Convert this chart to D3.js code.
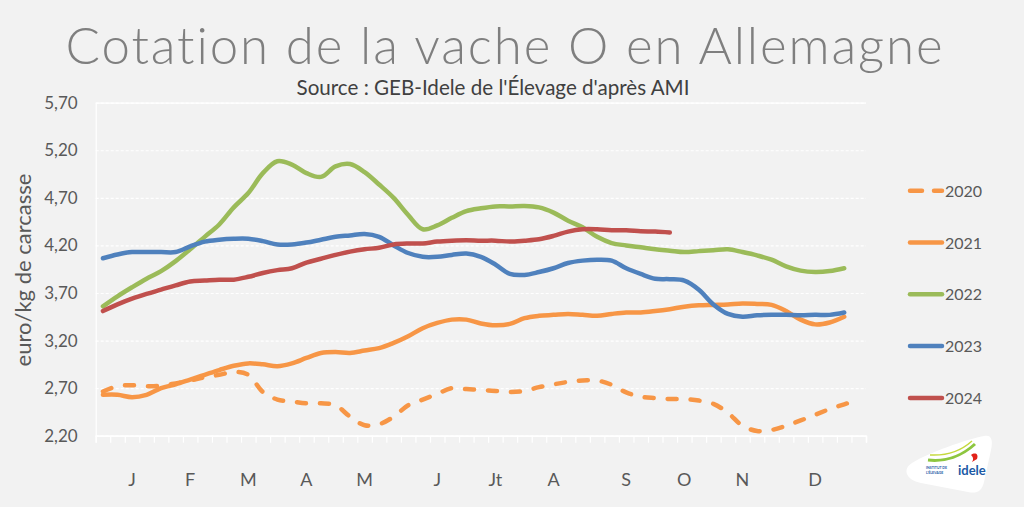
<!DOCTYPE html>
<html><head><meta charset="utf-8">
<script src="https://cdn.jsdelivr.net/npm/d3@7"></script>
<style>
html,body{margin:0;padding:0;background:#f2f2f2;}
svg{display:block;}
text{font-family:Lato,"Open Sans",sans-serif;}
</style></head>
<body>
<svg id="chart" width="1024" height="507"></svg>
<script>
// ---- data ----
const weeks = [1,2,3,4,5,6,7,8,9,10,11,12,13,14,15,16,17,18,19,20,21,22,23,24,25,26,27,28,29,30,31,32,33,34,35,36,37,38,39,40,41,42,43,44,45,46,47,48,49,50,51,52,53];
const monthLabels = ["J","F","M","A","M","J","Jt","A","S","O","N","D"];
const monthWeeks  = [3,7,11,15,19,24,28,32,37,41,45,50];
const yTicks = [2.2,2.7,3.2,3.7,4.2,4.7,5.2,5.7];
const seriesNames = ["2020","2021","2022","2023","2024"];

const s2020 = [2.665,2.72,2.73,2.72,2.725,2.75,2.78,2.815,2.84,2.87,2.84,2.66,2.58,2.56,2.54,2.54,2.52,2.40,2.31,2.32,2.40,2.52,2.58,2.64,2.70,2.69,2.68,2.67,2.66,2.67,2.71,2.74,2.765,2.78,2.78,2.735,2.655,2.61,2.595,2.585,2.585,2.57,2.535,2.44,2.305,2.25,2.26,2.305,2.36,2.42,2.48,2.53,2.58];
const s2021 = [2.63,2.63,2.605,2.63,2.70,2.74,2.79,2.84,2.89,2.935,2.96,2.95,2.93,2.96,3.017,3.07,3.08,3.07,3.095,3.12,3.175,3.245,3.33,3.385,3.42,3.42,3.38,3.36,3.375,3.435,3.46,3.47,3.48,3.47,3.46,3.48,3.495,3.495,3.51,3.53,3.555,3.57,3.575,3.58,3.59,3.585,3.575,3.51,3.42,3.37,3.39,3.45];
const s2022 = [3.56,3.665,3.76,3.85,3.93,4.035,4.16,4.29,4.42,4.60,4.75,4.96,5.085,5.05,4.96,4.92,5.03,5.055,4.97,4.84,4.70,4.52,4.37,4.41,4.49,4.56,4.59,4.61,4.61,4.615,4.60,4.545,4.46,4.39,4.29,4.225,4.20,4.18,4.16,4.145,4.13,4.14,4.15,4.16,4.13,4.095,4.05,3.98,3.935,3.92,3.93,3.96];
const s2023 = [4.065,4.105,4.13,4.13,4.13,4.13,4.19,4.24,4.26,4.27,4.27,4.245,4.21,4.21,4.23,4.26,4.29,4.305,4.32,4.29,4.20,4.12,4.08,4.08,4.10,4.115,4.08,4.0,3.90,3.89,3.92,3.96,4.015,4.04,4.05,4.04,3.96,3.90,3.85,3.845,3.83,3.735,3.58,3.48,3.45,3.465,3.47,3.47,3.465,3.47,3.47,3.495];
const s2024 = [3.51,3.58,3.64,3.69,3.735,3.78,3.82,3.83,3.84,3.84,3.87,3.91,3.94,3.96,4.02,4.06,4.10,4.135,4.16,4.175,4.21,4.22,4.22,4.24,4.25,4.255,4.25,4.25,4.24,4.25,4.265,4.30,4.345,4.37,4.37,4.36,4.36,4.35,4.345,4.335];

const seriesValues = [s2020,s2021,s2022,s2023,s2024];
const seriesColors = ["#F79646","#F79646","#9BBB59","#4F81BD","#C0504D"];
const seriesDash = ["9,14",null,null,null,null];

// ---- layout ----
const svg = d3.select("#chart");
const W = 1024, H = 507;
const pLeft = 95.7, pRight = 866, pTop = 102.7, pBottom = 435.7;

svg.append("rect").attr("width",W).attr("height",H).attr("fill","#f2f2f2");

const x = d3.scaleLinear().domain([0, weeks.length]).range([pLeft, pRight]);
const xc = i => x(i + 0.5);
const y = d3.scaleLinear().domain([2.2, 5.7]).range([pBottom, pTop]);

function fitText(sel, targetWidth){
  const node = sel.node();
  const fs = parseFloat(sel.attr("font-size"));
  const w = node.getComputedTextLength();
  if (w > 0) sel.attr("font-size", (fs * targetWidth / w).toFixed(2));
}
function spreadText(sel, targetWidth){
  const node = sel.node();
  const txt = sel.text();
  const w = node.getComputedTextLength();
  if (w > 0 && txt.length > 1) sel.attr("letter-spacing", ((targetWidth - w) / (txt.length - 1)).toFixed(2));
}

// title
const title = svg.append("text").attr("x",505).attr("y",64).attr("text-anchor","middle")
  .attr("font-size",51).attr("fill","#7f7f7f").attr("font-weight",300)
  .text("Cotation de la vache O en Allemagne");
spreadText(title, 878);
const sub = svg.append("text").attr("x",493).attr("y",95).attr("text-anchor","middle")
  .attr("font-size",16).attr("fill","#404040")
  .text("Source : GEB-Idele de l'Élevage d'après AMI");
fitText(sub, 393);

// y axis + grid
const fmt = v => d3.format(".2f")(v).replace(".", ",");
const yAxis = svg.append("g").attr("transform",`translate(${pLeft},0)`)
  .call(d3.axisLeft(y).tickValues(yTicks).tickSize(-(pRight-pLeft)).tickPadding(18).tickFormat(fmt));
yAxis.select(".domain").attr("stroke","#ffffff").attr("stroke-width",1.2);
yAxis.selectAll(".tick line").attr("stroke","#ffffff").attr("stroke-width",1.2).attr("stroke-dasharray","3,2");
yAxis.selectAll(".tick text").attr("font-size",17).attr("fill","#595959").attr("font-family","Lato,sans-serif");

// x axis
const xAxis = svg.append("g").attr("transform",`translate(0,${pBottom})`)
  .call(d3.axisBottom(x).tickValues(d3.range(weeks.length+1)).tickSize(7).tickFormat(""));
xAxis.select(".domain").attr("stroke","#ffffff").attr("stroke-width",1.5);
xAxis.selectAll(".tick line").attr("stroke","#ffffff").attr("stroke-width",1.2);

svg.append("g").selectAll("text").data(monthLabels).join("text")
  .attr("x",(d,i)=>xc(monthWeeks[i]-1)).attr("y",486).attr("text-anchor","middle")
  .attr("font-size",18).attr("fill","#595959").text(d=>d);

// y axis title
const yt = svg.append("text").attr("transform","translate(31,270) rotate(-90)")
  .attr("text-anchor","middle").attr("font-size",18).attr("fill","#595959")
  .text("euro/kg de carcasse");
fitText(yt, 193);

// lines
const line = d3.line().x((d,i)=>xc(i)).y(d=>y(d)).curve(d3.curveCatmullRom.alpha(0.5));
svg.append("g").selectAll("path").data(seriesValues).join("path")
  .attr("d", d=>line(d)).attr("fill","none")
  .attr("stroke",(d,i)=>seriesColors[i]).attr("stroke-width",4.5)
  .attr("stroke-linecap","round").attr("stroke-linejoin","round")
  .attr("stroke-dasharray",(d,i)=>seriesDash[i]);

// legend
const lg = svg.append("g").selectAll("g").data(seriesNames).join("g")
  .attr("transform",(d,i)=>`translate(0,${190.7 + i*51.8})`);
lg.append("line").attr("x1",910).attr("x2",942).attr("y1",0).attr("y2",0)
  .attr("stroke",(d,i)=>seriesColors[i]).attr("stroke-width",4.5).attr("stroke-linecap","round")
  .attr("stroke-dasharray",(d,i)=>seriesDash[i] ? "12,12" : null);
lg.append("text").attr("x",945).attr("y",6).attr("font-size",16).attr("fill","#595959").text(d=>d);

// logo
const logo = svg.append("g");
logo.append("path").attr("fill","#ffffff")
  .attr("d","M912,463 C930,452 965,440 984,436 C992,434 993,441 991,450 L984,482 C982,491 977,494 968,492 L921,483 C906,480 902,469 912,463 Z");
logo.append("path").attr("fill","none").attr("stroke","#8dc63f").attr("stroke-width",3)
  .attr("d","M928,460 C945,462 962,456 975,444");
logo.append("path").attr("fill","none").attr("stroke","#c5d93d").attr("stroke-width",1.5)
  .attr("d","M930,455 C948,456 962,450 972,441");
logo.append("path").attr("fill","#e2231a").attr("d","M971,455 C975,452 979,454 977,459 L972,462 C974,459 973,457 971,455 Z");
logo.append("text").attr("x",958).attr("y",475).attr("font-size",13).attr("font-weight",700)
  .attr("fill","#1c5aa6").attr("font-family","'DejaVu Sans',sans-serif").text("idele");
logo.append("text").attr("x",926).attr("y",469).attr("font-size",3.5).attr("font-weight",700)
  .attr("fill","#1c5aa6").text("INSTITUT DE");
logo.append("text").attr("x",926).attr("y",474).attr("font-size",3.5).attr("font-weight",700)
  .attr("fill","#1c5aa6").text("L'ÉLEVAGE");
</script>
</body></html>
